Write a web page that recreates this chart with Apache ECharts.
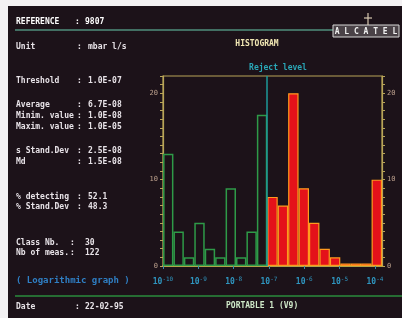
<!DOCTYPE html>
<html>
<head>
<meta charset="utf-8">
<script src="https://cdn.jsdelivr.net/npm/echarts@6/dist/echarts.min.js"></script>
<style>
  html, body { margin: 0; padding: 0; background: #f3f1f3; }
  #main { width: 402px; height: 318px; filter: blur(0.4px); }
</style>
</head>
<body>
<div id="main"></div>
<script>
// histogram classes (log scale, threshold at 1E-07)
const classNo = ['1', '2', '3', '4', '5', '6', '7', '8', '9', '10', '11',
  '12', '13', '14', '15', '16', '17', '18', '19', '20', '21'];
// counts below the reject level (green outline bars)
const acceptedCounts = [13, 4, 1, 5, 2, 1, 9, 1, 4, 17.5];
// counts above the reject level (red bars), last one = overflow class
const rejectedCounts = [8, 7, 20, 9, 5, 2, 1, 0.3, 0.3, 0.3, 10];
// log axis decades, reject level position (exponent)
const decadeMin = -10;
const decadeMax = -3.8;
const rejectLevel = -7.05;
const yMax = 22;

// left info panel
const infoLabels = ['Unit', 'Threshold', 'Average', 'Minim. value', 'Maxim. value',
  's Stand.Dev', 'Md', '% detecting', '% Stand.Dev', 'Class Nb.', 'Nb of meas.'];
const infoValues = ['mbar l/s', '1.0E-07', '6.7E-08', '1.0E-08', '1.0E-05',
  '2.5E-08', '1.5E-08', '52.1', '48.3', '30', '122'];
const infoRowY = [47, 81, 105, 116, 127, 151, 162, 197, 207, 243, 253];

const FONT = '"DejaVu Sans Mono", monospace';
const WHITE = '#e8e3e8';

const chart = echarts.init(document.getElementById('main'));

function txt(x, y, s, fill, size, align) {
  return {
    type: 'text', x: x, y: y, z: 10,
    style: {
      text: s, fill: fill || WHITE,
      font: 'bold ' + (size || 8) + 'px ' + FONT,
      verticalAlign: 'middle', align: align || 'left',
      shadowBlur: 3, shadowColor: 'rgba(255,255,255,0.35)'
    }
  };
}

const graphics = [
  // white photo border
  { type: 'rect', shape: { x: 0, y: 0, width: 402, height: 6 }, style: { fill: '#f3f1f3' }, z: 20 },
  { type: 'rect', shape: { x: 0, y: 0, width: 8, height: 318 }, style: { fill: '#f3f1f3' }, z: 20 },
  // header line + logo
  { type: 'line', shape: { x1: 15, y1: 30, x2: 333, y2: 30 }, style: { stroke: '#4f8f7c', lineWidth: 1.5 } },
  { type: 'rect', shape: { x: 333, y: 25, width: 66, height: 12 },
    style: { fill: 'rgba(210,210,210,0.25)', stroke: '#d6d6d6', lineWidth: 1 } },
  txt(366, 31.5, 'A L C A T E L', '#f0f0f0', 8, 'center'),
  { type: 'line', shape: { x1: 368, y1: 13, x2: 368, y2: 25 }, style: { stroke: '#d8c8b0', lineWidth: 1.2 } },
  { type: 'line', shape: { x1: 364, y1: 18, x2: 372, y2: 18 }, style: { stroke: '#d8c8b0', lineWidth: 1.2 } },
  // reference line
  txt(16, 22, 'REFERENCE', '#ffffff'),
  txt(75, 22, ':', '#ffffff'),
  txt(85, 22, '9807', '#ffffff'),
  // titles
  txt(257, 44, 'HISTOGRAM', '#f2e8b4', 8, 'center'),
  txt(278, 68, 'Reject level', '#2aa8b8', 8, 'center'),
  // bottom area
  txt(16, 281, '( Logarithmic graph )', '#2f7fc4', 9),
  { type: 'line', shape: { x1: 15, y1: 296, x2: 402, y2: 296 }, style: { stroke: '#2a8c3c', lineWidth: 1.5 } },
  txt(16, 307, 'Date', WHITE),
  txt(75, 307, ':', WHITE),
  txt(85, 307, '22-02-95', WHITE),
  txt(226, 306, 'PORTABLE 1 (V9)', '#cfe8c8')
];

infoLabels.forEach((lab, i) => {
  const low = i >= 9;
  graphics.push(txt(16, infoRowY[i], lab));
  graphics.push(txt(low ? 70 : 77, infoRowY[i], ':'));
  graphics.push(txt(low ? 85 : 88, infoRowY[i], infoValues[i]));
});

const pad = n => Array(n).fill('-');
const acceptedData = acceptedCounts.concat(pad(rejectedCounts.length));
const rejectedData = pad(acceptedCounts.length).concat(rejectedCounts);

const yAxisBase = {
  type: 'value', min: 0, max: yMax, interval: 1,
  axisLine: { show: true, lineStyle: { color: '#b8a458', width: 1.2 } },
  axisTick: { show: true, length: 3, lineStyle: { color: '#b8a458' } },
  splitLine: { show: false },
  axisLabel: {
    color: '#bca08c', fontSize: 7, fontFamily: FONT, margin: 5,
    formatter: v => (v % 10 === 0 ? String(v) : '')
  }
};

chart.setOption({
  backgroundColor: '#1c1219',
  animation: false,
  graphic: graphics,
  grid: {
    left: 163, right: 20, top: 76, bottom: 52,
    show: true, borderColor: '#b8a458', borderWidth: 1.2,
    backgroundColor: 'transparent'
  },
  xAxis: [
    {
      type: 'category', data: classNo,
      axisLine: { show: true, lineStyle: { color: '#c6c050', width: 1.5 } },
      axisTick: { show: false },
      axisLabel: { show: false }
    },
    {
      type: 'value', min: decadeMin, max: decadeMax, interval: 1,
      position: 'bottom',
      axisLine: { show: false },
      axisTick: { show: true, length: 3, lineStyle: { color: '#3a8aa8' } },
      splitLine: { show: false },
      axisLabel: {
        margin: 10, showMaxLabel: false,
        formatter: v => '{b|10}{e|' + v + '}',
        rich: {
          b: { fontSize: 8, color: '#2f96c0', fontFamily: FONT, fontWeight: 'bold' },
          e: { fontSize: 6, color: '#2f96c0', fontFamily: FONT, verticalAlign: 'top', padding: [0, 0, 6, 0] }
        }
      }
    }
  ],
  yAxis: [
    Object.assign({}, yAxisBase, { position: 'left' }),
    Object.assign({}, yAxisBase, { position: 'right' })
  ],
  series: [
    {
      name: 'Accepted', type: 'bar', xAxisIndex: 0, yAxisIndex: 0,
      data: acceptedData, barCategoryGap: '0%', barGap: '-100%',
      itemStyle: { color: 'rgba(0,0,0,0)', borderColor: '#2e9a48', borderWidth: 1.5 }
    },
    {
      name: 'Rejected', type: 'bar', xAxisIndex: 0, yAxisIndex: 0,
      data: rejectedData, barCategoryGap: '0%', barGap: '-100%',
      itemStyle: { color: '#e4121a', borderColor: '#ff9a1e', borderWidth: 1.2 }
    },
    {
      name: 'Reject level', type: 'line', xAxisIndex: 1, yAxisIndex: 0,
      data: [[rejectLevel, 0]], symbol: 'none', lineStyle: { opacity: 0 },
      markLine: {
        silent: true, symbol: 'none', label: { show: false },
        lineStyle: { color: '#1c9a98', type: 'solid', width: 1.5 },
        data: [{ xAxis: rejectLevel }]
      }
    }
  ]
});
</script>
</body>
</html>
